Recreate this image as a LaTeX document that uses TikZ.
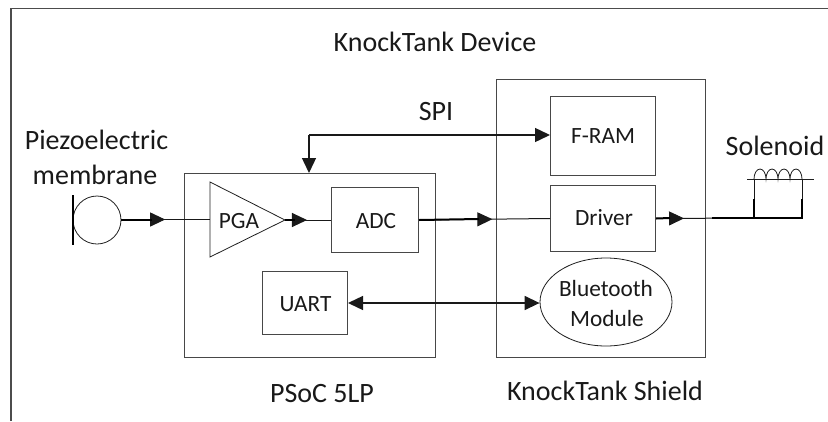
\documentclass[tikz,border=0pt]{standalone}
\usepackage{fontspec}
\setmainfont{Carlito}
\usetikzlibrary{arrows.meta,decorations.markings,shapes.geometric,calc}
\tikzset{
  wire/.style={draw=black!90,line width=1pt},
  thickwire/.style={draw=black,line width=2pt},
  box/.style={draw=black!72,line width=1pt,rectangle,inner sep=0pt,anchor=north west},
  thin shape/.style={draw=black!88,line width=0.8pt},
  midtip/.style={decoration={markings,mark=at position #1 with {\arrow{Triangle[length=15pt,width=14pt]}}},postaction={decorate}},
  lab/.style={font=\fontsize{28}{32}\selectfont,inner sep=0pt,text=black!90},
  slab/.style={font=\fontsize{23.3}{27}\selectfont,inner sep=0pt,text=black!90},
  bigtip/.style={-{Triangle[length=15pt,width=14pt]}},
}
\begin{document}
\begin{tikzpicture}[x=1pt,y=-1pt]
\useasboundingbox (0,0) rectangle (828,421);
\draw[draw=black!70,line width=1.2pt] (11,421) -- (11,8.7) -- (828,8.7);
% containers
\node[box,minimum width=251pt,minimum height=184pt] (psoc) at (184,173) {};
\node[box,minimum width=209pt,minimum height=278pt] (shield) at (496,79) {};
% blocks
\node[box,minimum width=87pt,minimum height=65pt] (adc) at (331,187) {};
\node[slab] (adct) at (376,221) {ADC};
\node[box,minimum width=85pt,minimum height=63pt] (uart) at (262,271) {};
\node[slab] (uartt) at (305.5,304) {UART};
\node[box,minimum width=105pt,minimum height=79pt] (fram) at (550,96) {};
\node[slab] (framt) at (603,136) {F-RAM};
\node[box,minimum width=105pt,minimum height=66pt] (driver) at (550,185) {};
\node[slab] (drivert) at (604,218) {Driver};
\node[thin shape,ellipse,minimum width=132pt,minimum height=88pt,inner sep=0pt] (bt) at (606,302) {};
\node[slab] (btt1) at (606,288) {Bluetooth};
\node[slab] (btt2) at (607,318) {Module};
% PGA triangle
\coordinate (pgal) at (210,219.5);
\coordinate (pgar) at (285,220);
\draw[thin shape] (210,182) -- (285,220) -- (210,257) -- cycle;
\node[slab] (pgat) at (239,221) {PGA};
% piezo
\node[thin shape,circle,minimum size=48pt,inner sep=0pt] (piezo) at (97,220) {};
\coordinate (bara) at (72.7,195);
\coordinate (barb) at (72.7,245);
\draw[black,line width=1.8pt] (bara) -- (barb);
% solenoid
\coordinate (sa) at (754,179);
\coordinate (sb) at (802,179);
\coordinate (sc) at (802,218);
\coordinate (sd) at (754,218);
\coordinate (sam) at (754,199);
\coordinate (sbm) at (802,199);
\coordinate (sl) at (747,179);
\coordinate (sr) at (814,179);
\draw[thin shape] (sl) -- (sr);
\draw[wire] (sa) -- (sam);
\draw[wire] (sb) -- (sbm);
\draw[thickwire,line width=1.6pt] (sam) -- (sd) -- (sc) -- (sbm);
\draw[thin shape] (sa) arc[start angle=180,end angle=0,x radius=6pt,y radius=10pt]
  arc[start angle=180,end angle=0,x radius=6pt,y radius=10pt]
  arc[start angle=180,end angle=0,x radius=6pt,y radius=10pt]
  arc[start angle=180,end angle=0,x radius=6pt,y radius=10pt];
% connectors
\coordinate (h1) at (152,219.5);
\coordinate (h2) at (295,220);
\coordinate (h3) at (479,219);
\coordinate (h4) at (670,218);
\coordinate (h5) at (712,218);
\draw[wire,midtip=0.494] (piezo.east |- pgal) -- (pgal);
\draw[thickwire] (piezo.east |- pgal) -- (h1);
\draw[wire,midtip=0.478] (pgar) -- (adc.west |- pgar);
\draw[thickwire] (pgar) -- (h2);
\draw[wire,midtip=0.56] (adc.east) -- (driver.west);
\draw[thickwire] (adc.east) -- (h3);
\draw[wire,midtip=0.286] (driver.east) -- (sd);
\draw[thickwire] (driver.east) -- (h4);
\draw[thickwire] (h5) -- (sd);
\coordinate (spidown) at (309,173);
\coordinate (spicorner) at (309,135);
\draw[wire,line width=1.4pt,bigtip] (spicorner) -- (spidown);
\draw[wire,line width=1.4pt,bigtip] (spicorner) -- (spicorner -| fram.west);
\coordinate (ua) at (uart.east |- 0,303);
\coordinate (ub) at (bt.west |- 0,303);
\draw[wire,line width=1.4pt,{Triangle[length=15pt,width=14pt]}-{Triangle[length=15pt,width=14pt]}] (ua) -- (ub);
% labels
\node[lab] (t1) at (435,42) {KnockTank Device};
\node[lab] (t2) at (436,112) {SPI};
\node[lab] (t3) at (96.5,140) {Piezoelectric};
\node[lab] (t4) at (95,175) {membrane};
\node[lab] (t5) at (775,146) {Solenoid};
\node[lab] (t6) at (322,394) {PSoC 5LP};
\node[lab] (t7) at (605,391) {KnockTank Shield};
\end{tikzpicture}
\end{document}
